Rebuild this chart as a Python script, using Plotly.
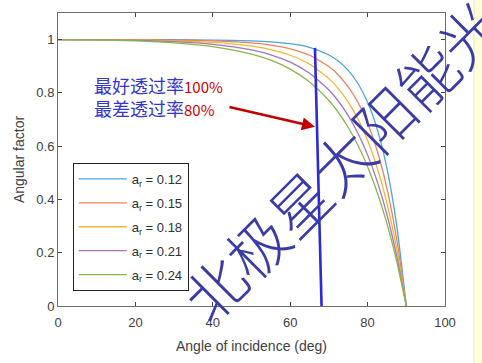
import plotly.graph_objects as go

# ---- data ----
angles = [0, 10, 20, 30, 40, 50, 55, 60, 65, 70, 72.5, 75, 77.5, 80, 82.5, 85, 87.5, 90]
ar_labels = ["0.12", "0.15", "0.18", "0.21", "0.24"]
f_012 = [1, 1.000, 0.9996, 0.9995, 0.9985, 0.9955, 0.9918, 0.9847, 0.9707, 0.9424, 0.9186, 0.8845, 0.8354, 0.7649, 0.6632, 0.5166, 0.3047, 0]
f_015 = [1, 0.9999, 0.9994, 0.9982, 0.9952, 0.9875, 0.9794, 0.9655, 0.9414, 0.8988, 0.8664, 0.8228, 0.7647, 0.6866, 0.5817, 0.4414, 0.2526, 0]
f_018 = [1, 0.9997, 0.9985, 0.9957, 0.9896, 0.9757, 0.9624, 0.9414, 0.9079, 0.8537, 0.8150, 0.7656, 0.7021, 0.6212, 0.5177, 0.3854, 0.2159, 0]
f_021 = [1, 0.9994, 0.9971, 0.9923, 0.9824, 0.9614, 0.9430, 0.9153, 0.8738, 0.8107, 0.7678, 0.7144, 0.6485, 0.5674, 0.4668, 0.3427, 0.1891, 0]
f_024 = [1, 0.9990, 0.9955, 0.9882, 0.9740, 0.9460, 0.9227, 0.8893, 0.8411, 0.7715, 0.7255, 0.6702, 0.6035, 0.5230, 0.4261, 0.3094, 0.1687, 0]
series = [f_012, f_015, f_018, f_021, f_024]

marker_x = [66.4, 68.1]
marker_y = [0.969, 0.0]

arrow_tail = (43.9, 0.748)
arrow_head = (66.4, 0.673)

x_ticks = [0, 20, 40, 60, 80, 100]
y_ticks = [0, 0.2, 0.4, 0.6, 0.8, 1]
y_tick_text = ["0", "0.2", "0.4", "0.6", "0.8", "1"]

colors = ["#4da3dc", "#e8845c", "#f0b632", "#a474bc", "#86b84e"]

fig = go.Figure()
for vals, lab, col in zip(series, ar_labels, colors):
    fig.add_trace(go.Scatter(
        x=angles, y=vals, mode="lines", name=f"a<sub>r</sub> = {lab}",
        line=dict(color=col, width=1.3, shape="spline", smoothing=0.6),
        legendgroup=lab,
    ))

fig.add_trace(go.Scatter(x=marker_x, y=marker_y, mode="lines", showlegend=False,
                         line=dict(color="#2a2ad8", width=2.6)))

axis_common = dict(
    showline=True, linecolor="#6e6e6e", linewidth=1, mirror="ticks",
    ticks="inside", ticklen=4, tickcolor="#444444", showgrid=False, zeroline=False,
    tickfont=dict(family="Liberation Sans, Arial", size=13, color="#404040"),
)

fig.update_layout(
    width=482, height=363,
    margin=dict(l=58, r=37, t=13, b=55),
    paper_bgcolor="white", plot_bgcolor="white",
    xaxis=dict(range=[0, 100], tickvals=x_ticks, ticklabelstandoff=4,
               title=dict(text="Angle of incidence (deg)", standoff=12,
                          font=dict(family="Liberation Sans, Arial", size=14, color="#404040")),
               **axis_common),
    yaxis=dict(range=[0, 1.1], tickvals=y_ticks, ticktext=y_tick_text,
               title=dict(text="Angular factor", standoff=8,
                          font=dict(family="Liberation Sans, Arial", size=14, color="#404040")),
               **axis_common),
    legend=dict(x=0.038, y=0.488, xanchor="left", yanchor="top",
                bordercolor="#222222", borderwidth=1, bgcolor="white",
                font=dict(family="Liberation Sans, Arial", size=13, color="#303030"),
                tracegroupgap=4, itemwidth=48),
    showlegend=True,
)

# yellow strip at right edge
fig.add_shape(type="rect", xref="paper", yref="paper", x0=1.075, x1=1.2, y0=-0.3, y1=1.1,
              fillcolor="#ffffdc", line=dict(color="#e8e8c0", width=1), layer="below")

# arrow
fig.add_annotation(x=arrow_head[0], y=arrow_head[1], ax=arrow_tail[0], ay=arrow_tail[1],
                   xref="x", yref="y", axref="x", ayref="y", text="", showarrow=True,
                   arrowhead=2, arrowsize=1, arrowwidth=2.6, arrowcolor="#c00000")

# two-line note
fig.add_annotation(x=(92 - 58) / 387, y=(308 - 97.5) / 295, xref="paper", yref="paper",
                   xanchor="left", yanchor="middle", showarrow=False, align="left",
                   text=("最好透过率<span style='color:#cc0000;font-size:15px'>100%</span><br>"
                         "最差透过率<span style='color:#cc0000;font-size:15px'>80%</span>"),
                   font=dict(family="Noto Sans CJK SC", size=18, color="#3535d0"))

# watermark
fig.add_annotation(x=(340 - 58) / 387, y=(308 - 160) / 295, xref="paper", yref="paper",
                   xanchor="center", yanchor="middle", showarrow=False, textangle=-45,
                   text="北极星太阳能光",
                   font=dict(family="Noto Sans CJK SC", size=60, color="#3b3ba8", weight=300))

fig.write_html("out.html", config={"displayModeBar": False})

# remove default page margin so the figure sits at the window's top-left corner
with open("out.html", "r", encoding="utf-8") as fh:
    html = fh.read()
html = html.replace("<head>", "<head><style>html,body{margin:0;padding:0;overflow:hidden;}</style>", 1)
with open("out.html", "w", encoding="utf-8") as fh:
    fh.write(html)
